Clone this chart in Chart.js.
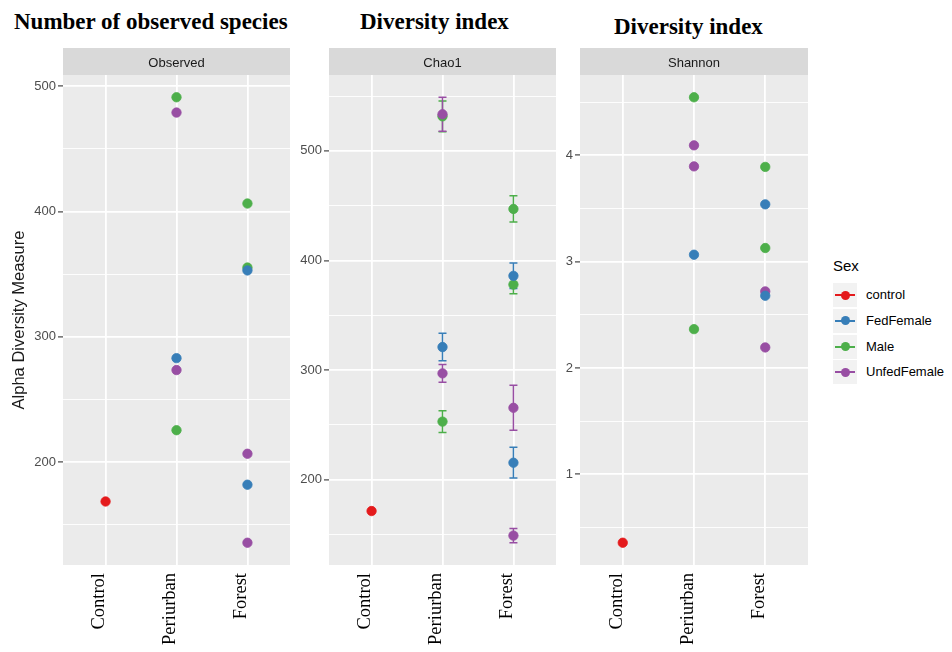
<!DOCTYPE html>
<html>
<head>
<meta charset="utf-8">
<script src="https://cdn.jsdelivr.net/npm/chart.js@4.4.1/dist/chart.umd.min.js"></script>
<style>
  html, body { margin: 0; padding: 0; background: #ffffff; }
  #wrap { position: relative; width: 952px; height: 652px; overflow: hidden; background: #ffffff; }
  #wrap canvas { position: absolute; top: 0; }
  .ptitle { position: absolute; font-family: "Liberation Serif", "Times New Roman", serif; font-weight: bold;
            font-size: 23px; line-height: 23px; color: #000; white-space: nowrap; }
  .legend-title { position: absolute; left: 833px; top: 258px; font-family: "Liberation Sans", Arial, sans-serif;
                  font-size: 15px; line-height: 15px; color: #000; }
  .key { position: absolute; left: 833px; width: 24px; height: 24px; background: #f2f2f2; }
  .key .ln { position: absolute; left: 2px; top: 11px; width: 20px; height: 2px; }
  .key .dt { position: absolute; left: 7.5px; top: 7.5px; width: 9px; height: 9px; border-radius: 50%; }
  .klabel { position: absolute; left: 866px; font-family: "Liberation Sans", Arial, sans-serif; font-size: 13px;
            line-height: 24px; height: 24px; color: #000; white-space: nowrap; }
</style>
</head>
<body>
<div id="wrap">
  <div class="ptitle" style="left:14px; top:10px;">Number of observed species</div>
  <div class="ptitle" style="left:360px; top:9.5px;">Diversity index</div>
  <div class="ptitle" style="left:614px; top:14.5px;">Diversity index</div>
  <canvas id="observed" width="292" height="652" style="left:0px; width:292px; height:652px;"></canvas>
  <canvas id="chao1" width="268" height="652" style="left:290px; width:268px; height:652px;"></canvas>
  <canvas id="shannon" width="254" height="652" style="left:556px; width:254px; height:652px;"></canvas>
  <div id="legend"></div>
</div>
<script>
// Sampling sites on the x axis and the groups that colour the points
const habitats = ['Control', 'Periurban', 'Forest'];
const sexes = ['control', 'FedFemale', 'Male', 'UnfedFemale'];

// Observed richness: [site, value]
const observedControl     = [['Control', 168.6]];
const observedFedFemale   = [['Periurban', 283], ['Forest', 353], ['Forest', 182]];
const observedMale        = [['Periurban', 491.2], ['Periurban', 225.5], ['Forest', 406.4], ['Forest', 355.3]];
const observedUnfedFemale = [['Periurban', 479], ['Periurban', 273.5], ['Forest', 206.7], ['Forest', 135.7]];

// Chao1 estimate: [site, value, standard error]
const chao1Control     = [['Control', 171.4, 0]];
const chao1FedFemale   = [['Periurban', 321, 12.5], ['Forest', 386, 11.6], ['Forest', 215.5, 14]];
const chao1Male        = [['Periurban', 531.5, 14], ['Periurban', 253, 10], ['Forest', 447, 12], ['Forest', 378, 8.3]];
const chao1UnfedFemale = [['Periurban', 533.4, 15.5], ['Periurban', 297, 8], ['Forest', 265.6, 20.5], ['Forest', 149, 6.5]];

// Shannon index: [site, value]
const shannonControl     = [['Control', 0.356]];
const shannonFedFemale   = [['Periurban', 3.065], ['Forest', 3.539], ['Forest', 2.679]];
const shannonMale        = [['Periurban', 4.546], ['Periurban', 2.365], ['Forest', 3.891], ['Forest', 3.128]];
const shannonUnfedFemale = [['Periurban', 4.094], ['Periurban', 3.896], ['Forest', 2.72], ['Forest', 2.193]];

// Y axis breaks (major and minor) for each facet
const observedTicks = [150, 200, 250, 300, 350, 400, 450, 500];
const chao1Ticks    = [150, 200, 250, 300, 350, 400, 450, 500, 550];
const shannonTicks  = [0.5, 1, 1.5, 2, 2.5, 3, 3.5, 4, 4.5];

// ---- styling ----
const sexColors = ['#e41a1c', '#377eb8', '#4daf4a', '#984ea3'];
const drawOrder = [0, 1, 3, 2];   // lower order is painted on top
const SANS = '"Liberation Sans", Arial, sans-serif';
const SERIF = '"Liberation Serif", "Times New Roman", serif';

Chart.defaults.animation = false;

function toPoints(rows, withErr) {
  return rows.map(r => ({ x: habitats.indexOf(r[0]) + 1, y: r[1], err: withErr ? r[2] : 0 }));
}

function buildDatasets(series, withErr) {
  return sexes.map((sex, i) => ({
    label: sex,
    data: toPoints(series[i], withErr),
    backgroundColor: sexColors[i],
    borderColor: sexColors[i],
    pointRadius: 4.7,
    pointHoverRadius: 4.7,
    pointBorderWidth: 0.8,
    showLine: false,
    order: drawOrder[i]
  }));
}

// expanded range (5% on each side) over values and their error bars
function paddedRange(series, withErr) {
  let lo = Infinity, hi = -Infinity;
  series.forEach(rows => rows.forEach(r => {
    const e = withErr ? r[2] : 0;
    lo = Math.min(lo, r[1] - e);
    hi = Math.max(hi, r[1] + e);
  }));
  const pad = (hi - lo) * 0.05;
  return [lo - pad, hi + pad];
}

// grey panel, facet strip and error bars
const facetPlugin = {
  id: 'facet',
  beforeDraw(chart, args, opts) {
    const { ctx, chartArea: a } = chart;
    ctx.save();
    ctx.fillStyle = '#ebebeb';
    ctx.fillRect(a.left, a.top, a.right - a.left, a.bottom - a.top);
    ctx.fillStyle = '#d9d9d9';
    ctx.fillRect(a.left, a.top - 27, a.right - a.left, 27);
    ctx.fillStyle = '#1a1a1a';
    ctx.font = '13px ' + SANS;
    ctx.textAlign = 'center';
    ctx.textBaseline = 'middle';
    ctx.fillText(opts.strip, (a.left + a.right) / 2, a.top - 11.5);
    ctx.restore();
  },
  beforeDatasetsDraw(chart) {
    const { ctx, scales: { x, y } } = chart;
    const sets = chart.data.datasets.map((d, i) => i).sort((p, q) => chart.data.datasets[q].order - chart.data.datasets[p].order);
    ctx.save();
    ctx.lineWidth = 1.5;
    sets.forEach(i => {
      const ds = chart.data.datasets[i];
      ctx.strokeStyle = ds.borderColor;
      ds.data.forEach(p => {
        if (!p.err) return;
        const px = x.getPixelForValue(p.x);
        const top = y.getPixelForValue(p.y + p.err);
        const bot = y.getPixelForValue(p.y - p.err);
        ctx.beginPath();
        ctx.moveTo(px, top); ctx.lineTo(px, bot);
        ctx.moveTo(px - 4, top); ctx.lineTo(px + 4, top);
        ctx.moveTo(px - 4, bot); ctx.lineTo(px + 4, bot);
        ctx.stroke();
      });
    });
    ctx.restore();
  }
};

function makeFacet(id, strip, series, withErr, tickVals, majorStep, yWidth, yTitle) {
  const [ymin, ymax] = paddedRange(series, withErr);
  const isMajor = v => Math.abs(v / majorStep - Math.round(v / majorStep)) < 1e-6;
  const yScale = {
    type: 'linear',
    min: ymin,
    max: ymax,
    afterBuildTicks: s => { s.ticks = tickVals.map(v => ({ value: v })); },
    afterFit: s => { s.width = yWidth; },
    border: { display: false },
    grid: {
      color: '#ffffff',
      lineWidth: c => (c.tick && isMajor(c.tick.value)) ? 1.8 : 0.9,
      drawTicks: true,
      tickLength: 5,
      tickWidth: 1.1,
      tickColor: c => (c.tick && isMajor(c.tick.value)) ? '#333333' : 'rgba(0,0,0,0)'
    },
    ticks: {
      padding: 2,
      color: '#4d4d4d',
      font: { family: SANS, size: 13 },
      callback: v => isMajor(v) ? String(v) : ''
    },
    title: yTitle ? {
      display: true,
      text: yTitle,
      color: '#1a1a1a',
      font: { family: SANS, size: 16.5 },
      padding: { top: 10, bottom: 0 }
    } : { display: false }
  };
  const xScale = {
    type: 'linear',
    min: 0.4,
    max: 3.6,
    afterBuildTicks: s => { s.ticks = habitats.map((h, i) => ({ value: i + 1 })); },
    afterFit: s => { s.height = 87; },
    border: { display: false },
    grid: { color: '#ffffff', lineWidth: 1.8, drawTicks: false },
    ticks: {
      autoSkip: false,
      minRotation: 90,
      maxRotation: 90,
      padding: 8,
      labelOffset: -6,
      color: '#000000',
      font: { family: SERIF, size: 18.5 },
      callback: v => habitats[v - 1]
    }
  };
  return new Chart(document.getElementById(id), {
    type: 'scatter',
    data: { datasets: buildDatasets(series, withErr) },
    options: {
      responsive: false,
      devicePixelRatio: 1,
      layout: { autoPadding: false, padding: { top: 75, right: 2, bottom: 0, left: 0 } },
      scales: { x: xScale, y: yScale },
      plugins: {
        legend: { display: false },
        tooltip: { enabled: false },
        facet: { strip: strip }
      },
      events: []
    },
    plugins: [facetPlugin]
  });
}

makeFacet('observed', 'Observed',
  [observedControl, observedFedFemale, observedMale, observedUnfedFemale],
  false, observedTicks, 100, 63, 'Alpha Diversity Measure');
makeFacet('chao1', 'Chao1',
  [chao1Control, chao1FedFemale, chao1Male, chao1UnfedFemale],
  true, chao1Ticks, 100, 39, null);
makeFacet('shannon', 'Shannon',
  [shannonControl, shannonFedFemale, shannonMale, shannonUnfedFemale],
  false, shannonTicks, 1, 24, null);

// legend for the colour grouping
(function buildLegend() {
  const host = document.getElementById('legend');
  const title = document.createElement('div');
  title.className = 'legend-title';
  title.textContent = 'Sex';
  host.appendChild(title);
  sexes.forEach((sex, i) => {
    const top = 283 + i * 25.8;
    const key = document.createElement('div');
    key.className = 'key';
    key.style.top = top + 'px';
    const ln = document.createElement('div');
    ln.className = 'ln';
    ln.style.background = sexColors[i];
    const dt = document.createElement('div');
    dt.className = 'dt';
    dt.style.background = sexColors[i];
    key.appendChild(ln);
    key.appendChild(dt);
    host.appendChild(key);
    const lab = document.createElement('div');
    lab.className = 'klabel';
    lab.style.top = top + 'px';
    lab.textContent = sex;
    host.appendChild(lab);
  });
})();
</script>
</body>
</html>
